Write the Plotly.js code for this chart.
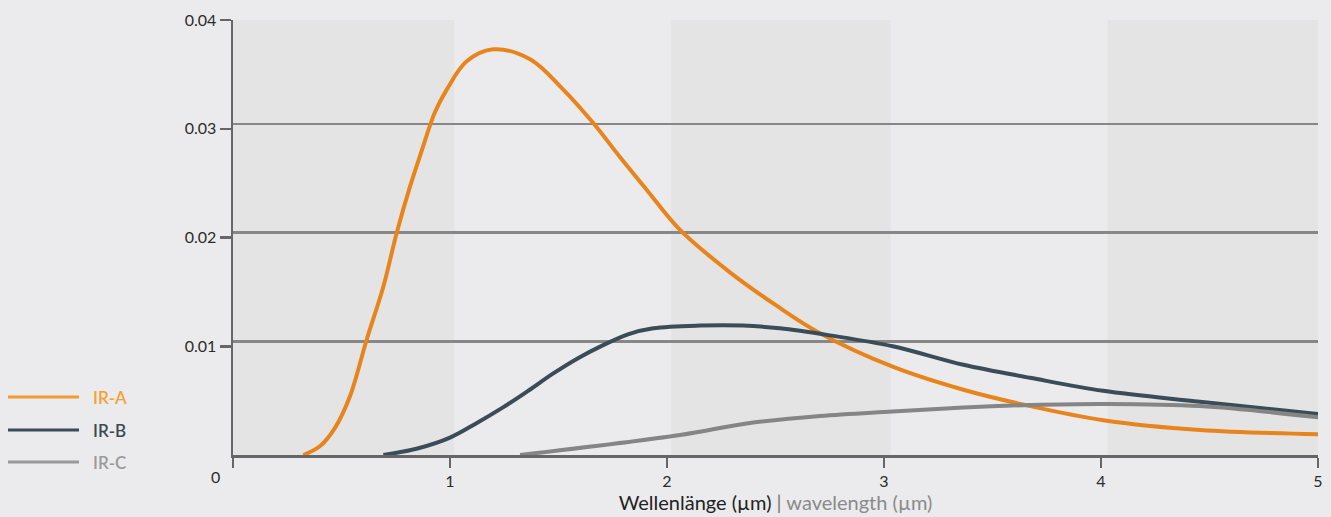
<!DOCTYPE html>
<html>
<head>
<meta charset="utf-8">
<script src="https://cdn.plot.ly/plotly-3.0.1.min.js"></script>
<style>
  html, body { margin: 0; padding: 0; background: rgb(235,235,237); }
  #chart { width: 1331px; height: 517px; }
</style>
</head>
<body>
<div id="chart"></div>
<script>
// ---- data ----
const seriesNames = ["IR-A", "IR-B", "IR-C"];

const irA_x = [0.324, 0.40, 0.47, 0.539, 0.616, 0.693, 0.754, 0.816, 0.870, 0.93, 0.985, 1.077, 1.20, 1.369, 1.522, 1.661, 1.783, 1.906, 2.06, 2.29, 2.50, 2.705, 3.043, 3.366, 3.673, 4.01, 4.456, 5.02];
const irA_y = [0, 0.0008, 0.0025, 0.0054, 0.0106, 0.0155, 0.0204, 0.0247, 0.0280, 0.0315, 0.0336, 0.0362, 0.0373, 0.0364, 0.0336, 0.0305, 0.0274, 0.0244, 0.0207, 0.0168, 0.0138, 0.0112, 0.0081, 0.0060, 0.0045, 0.0032, 0.0023, 0.0019];

const irB_x = [0.693, 0.85, 1.0, 1.12, 1.246, 1.36, 1.476, 1.59, 1.706, 1.82, 1.937, 2.152, 2.35, 2.52, 2.75, 3.04, 3.366, 3.673, 4.01, 4.456, 5.03];
const irB_y = [0, 0.0006, 0.0016, 0.0029, 0.0044, 0.0059, 0.0075, 0.0089, 0.0101, 0.0111, 0.01165, 0.0119, 0.0119, 0.01165, 0.0110, 0.0100, 0.0083, 0.0071, 0.0059, 0.0049, 0.0037];

const irC_x = [1.323, 2.06, 2.367, 2.705, 3.04, 3.366, 3.673, 4.01, 4.456, 5.03];
const irC_y = [0, 0.00184, 0.0029, 0.00359, 0.0040, 0.00437, 0.0046, 0.0047, 0.0045, 0.0034];

const xTickVals = [0, 1, 2, 3, 4, 5];
const xTickText = ["", "1", "2", "3", "4", "5"];
const yTickVals = [0.01, 0.02, 0.03, 0.04];
const yTickText = ["0.01", "0.02", "0.03", "0.04"];
const gridVals = [0.01, 0.02, 0.03];
const bandStarts = [0, 2.02, 4.03];
const bandEnds = [1.02, 3.03, 5];

// ---- styling ----
const lineColors = ["#e8841c", "#3a4c58", "#858585"];
const legendLineColors = ["#f39b2c", "#3a4c58", "#9a9a9a"];
const legendTextColors = ["#f5a232", "#3a4a55", "#9a9a9a"];
const bg = "rgb(235,235,237)";
const bandColor = "rgb(228,228,229)";
const fontFam = "Lato, 'Open Sans', sans-serif";

const W = 1331, H = 517;
const M = {l: 233, r: 13, t: 20, b: 62};
const plotW = W - M.l - M.r, plotH = H - M.t - M.b;
const px2paperX = p => (p - M.l) / plotW;
const px2paperY = p => (H - M.b - p) / plotH;

const xs = [irA_x, irB_x, irC_x];
const ys = [irA_y, irB_y, irC_y];

const traces = seriesNames.map((n, i) => ({
  type: "scatter", mode: "lines", name: n,
  x: xs[i], y: ys[i],
  line: {color: lineColors[i], width: 4, shape: "spline", smoothing: 1},
  cliponaxis: false, hoverinfo: "skip", showlegend: false
}));

const shapes = bandStarts.map((s, i) => ({
  type: "rect", xref: "x", yref: "paper", x0: s, x1: bandEnds[i], y0: 0, y1: 1,
  fillcolor: bandColor, line: {width: 0}, layer: "below"
}));

// manual legend (long line samples as in the reference)
const legendPxY = [397, 430, 462];
const annotations = [];
seriesNames.forEach((n, i) => {
  shapes.push({
    type: "line", xref: "paper", yref: "paper",
    x0: px2paperX(8), x1: px2paperX(79), y0: px2paperY(legendPxY[i]), y1: px2paperY(legendPxY[i]),
    line: {color: legendLineColors[i], width: 3}
  });
  annotations.push({
    xref: "paper", yref: "paper", x: px2paperX(91), y: px2paperY(legendPxY[i]),
    xanchor: "left", yanchor: "middle", showarrow: false, text: n,
    font: {family: fontFam, size: 17, color: legendTextColors[i], weight: 600}
  });
});
// origin label "0"
annotations.push({
  xref: "x", yref: "paper", x: 0, y: 0, xshift: -18, yshift: -10,
  xanchor: "center", yanchor: "top", showarrow: false, text: "0",
  font: {family: fontFam, size: 16, color: "#2b2b2b"}
});

const layout = {
  width: W, height: H,
  margin: M,
  paper_bgcolor: bg, plot_bgcolor: bg,
  showlegend: false,
  font: {family: fontFam, color: "#2b2b2b"},
  xaxis: {
    range: [0, 5], tickvals: xTickVals, ticktext: xTickText,
    ticks: "outside", ticklen: 10, tickwidth: 2.5, tickcolor: "#666",
    showline: true, linecolor: "#666", linewidth: 2.5,
    showgrid: false, zeroline: false,
    tickfont: {family: fontFam, size: 16, color: "#2b2b2b"},
    title: {
      text: "Wellenlänge (µm) <span style='color:#777'>|</span> <span style='color:#8a8a8a'>wavelength (µm)</span>",
      font: {family: fontFam, size: 20, color: "#222"}, standoff: 6
    }
  },
  yaxis: {
    range: [0, 0.04], tickvals: yTickVals, ticktext: yTickText,
    ticks: "outside", ticklen: 11, tickwidth: 2.5, tickcolor: "#666",
    showline: true, linecolor: "#666", linewidth: 2.5,
    showgrid: false, zeroline: false,
    tickfont: {family: fontFam, size: 16, color: "#2b2b2b"}
  },
  yaxis2: {
    overlaying: "y", range: [-0.00046, 0.03954], tickvals: gridVals,
    showticklabels: false, ticks: "", showline: false, zeroline: false,
    showgrid: true, gridcolor: "#878787", gridwidth: 2.5
  },
  shapes: shapes,
  annotations: annotations
};

// invisible trace to activate the grid axis
traces.push({type: "scatter", x: [null], y: [null], yaxis: "y2", showlegend: false, hoverinfo: "skip"});

Plotly.newPlot("chart", traces, layout, {displayModeBar: false, staticPlot: true});
</script>
</body>
</html>
